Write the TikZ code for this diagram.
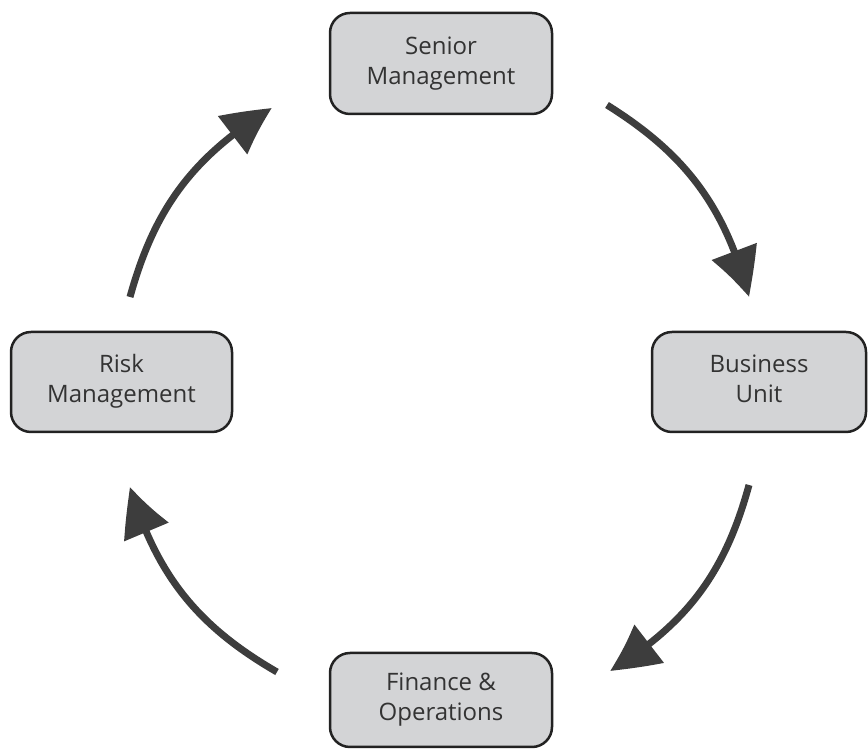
\documentclass[tikz,border=0pt]{standalone}
\usepackage{fontspec}
\setmainfont{Open Sans}
\usetikzlibrary{arrows.meta,bending}
\definecolor{boxfill}{HTML}{D3D4D6}
\definecolor{boxline}{HTML}{222222}
\definecolor{txt}{HTML}{333333}
\definecolor{arr}{HTML}{3D3D3D}
\newcommand\twolines[3][3pt]{\raisebox{-#1}{\begin{tabular}{@{}c@{}}#2\\#3\end{tabular}}}
\tikzset{
  unitbox/.style={draw=boxline, line width=2.5pt, fill=boxfill, rounded corners=20pt,
    minimum width=#1, align=center, text=txt, inner sep=0pt,
    font=\fontsize{24pt}{30pt}\selectfont},
  cyclearrow/.style={draw=arr, line width=7pt,
    -{Triangle[length=50pt,width=46pt,bend]}},
}
\begin{document}
\begin{tikzpicture}[x=1pt,y=1pt]
\useasboundingbox (0,0) rectangle (868,749);
\node[unitbox=222pt, minimum height=101pt] (sm) at (441,685.5) {\twolines{Senior}{Management}};
\node[unitbox=214pt, minimum height=100pt] (bu) at (759,367) {\twolines[2pt]{Business}{Unit}};
\node[unitbox=222pt, minimum height=94pt] (fo) at (441,49) {\twolines[7pt]{Finance \&}{Operations}};
\node[unitbox=221pt, minimum height=100pt] (rm) at (121.5,367) {\twolines{Risk}{Management}};
\coordinate (a1s) at (607,644);
\coordinate (a1e) at (749,452);
\coordinate (a2s) at (749,264);
\coordinate (a2e) at (610,78);
\coordinate (a3s) at (277,77);
\coordinate (a3e) at (130,262);
\coordinate (a4s) at (130,452);
\coordinate (a4e) at (272,641);
\draw[cyclearrow] (a1s) to[bend left=21.5] (a1e);
\draw[cyclearrow] (a2s) to[bend left=21.5] (a2e);
\draw[cyclearrow] (a3s) to[bend left=21.5] (a3e);
\draw[cyclearrow] (a4s) to[bend left=21.5] (a4e);
\end{tikzpicture}
\end{document}
